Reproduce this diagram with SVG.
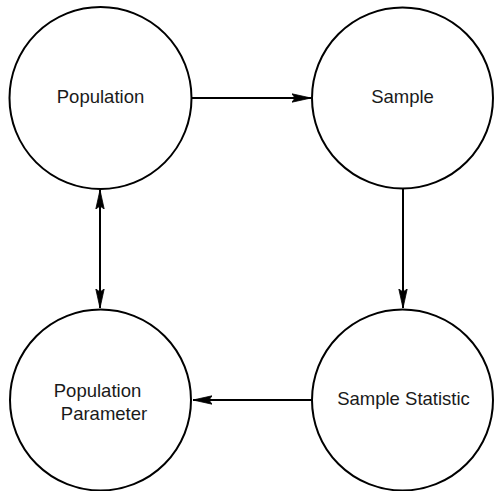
<svg xmlns="http://www.w3.org/2000/svg" width="494" height="491" viewBox="0 0 494 491">
  <style>
    .node circle { fill: #ffffff; stroke: #000000; stroke-width: 2; }
    .node text { font-family: "Liberation Sans", Arial, sans-serif; font-size: 18.5px; fill: #1a1a1a; }
    .edge { stroke: #000000; stroke-width: 2; fill: none; }
  </style>
  <defs>
    <marker id="arrow" viewBox="0 0 20 10" refX="19" refY="5" markerWidth="20" markerHeight="10" markerUnits="userSpaceOnUse" orient="auto-start-reverse">
      <path d="M0,0.8 L19,5 L0,9.2 L3,5 Z" fill="#000000" stroke="#000000" stroke-width="0.8" stroke-linejoin="miter"/>
    </marker>
  </defs>
  <rect width="494" height="491" fill="#ffffff"/>
  <g id="connectors">
    <line class="edge" x1="192" y1="98" x2="311" y2="98" marker-end="url(#arrow)"/>
    <line class="edge" x1="403" y1="189" x2="403" y2="308" marker-end="url(#arrow)"/>
    <line class="edge" x1="312" y1="400" x2="193" y2="400" marker-end="url(#arrow)"/>
    <line class="edge" x1="100" y1="190" x2="100" y2="308" marker-start="url(#arrow)" marker-end="url(#arrow)"/>
  </g>
  <g id="population" class="node">
    <circle cx="100.5" cy="98" r="91"/>
    <text x="100.5" y="103" text-anchor="middle">Population</text>
  </g>
  <g id="sample" class="node">
    <circle cx="402.5" cy="98" r="90.5"/>
    <text x="402.5" y="103" text-anchor="middle">Sample</text>
  </g>
  <g id="sample-statistic" class="node">
    <circle cx="402.5" cy="400" r="90.5"/>
    <text x="403.5" y="405" text-anchor="middle">Sample Statistic</text>
  </g>
  <g id="population-parameter" class="node">
    <circle cx="100.5" cy="400" r="90.5"/>
    <text x="97.5" y="397" text-anchor="middle">Population</text>
    <text x="104" y="420" text-anchor="middle">Parameter</text>
  </g>
</svg>
